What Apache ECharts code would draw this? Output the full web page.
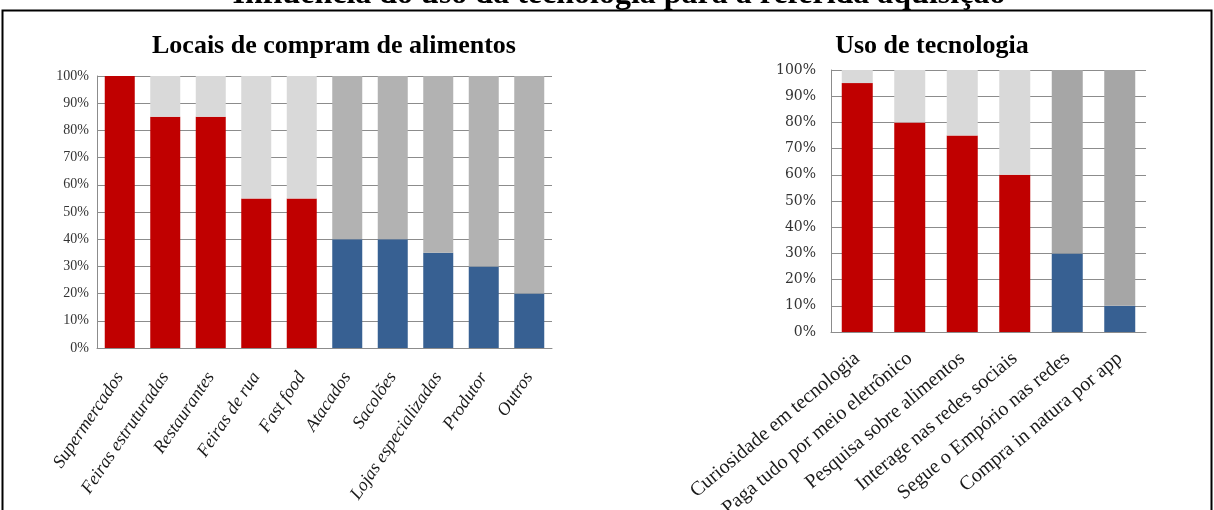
<!DOCTYPE html>
<html>
<head>
<meta charset="utf-8">
<script src="https://cdn.jsdelivr.net/npm/echarts@6/dist/echarts.min.js"></script>
<style>
  html, body { margin: 0; padding: 0; background: #fff; }
  #chart { width: 1214px; height: 510px; }
</style>
</head>
<body>
<div id="chart"></div>
<script>
// Locais de compra (gráfico da esquerda)
const locaisCats = ['Supermercados', 'Feiras estruturadas', 'Restaurantes', 'Feiras de rua', 'Fast food',
  'Atacados', 'Sacolões', 'Lojas especializadas', 'Produtor', 'Outros']
const locaisVermelho = [100, 85, 85, 55, 55, '-', '-', '-', '-', '-']
const locaisAzul = ['-', '-', '-', '-', '-', 40, 40, 35, 30, 20]
const locaisClaro = [0, 15, 15, 45, 45, '-', '-', '-', '-', '-']
const locaisCinza = ['-', '-', '-', '-', '-', 60, 60, 65, 70, 80]

// Uso de tecnologia (gráfico da direita)
const tecCats = ['Curiosidade em tecnologia', 'Paga tudo por meio eletrônico', 'Pesquisa sobre alimentos',
  'Interage nas redes sociais', 'Segue o Empório nas redes', 'Compra in natura por app']
const tecVermelho = [95, 80, 75, 60, '-', '-']
const tecAzul = ['-', '-', '-', '-', 30, 10]
const tecClaro = [5, 20, 25, 40, '-', '-']
const tecCinza = ['-', '-', '-', '-', 70, 90]

const RED = '#C00000'
const BLUE = '#376092'
const LIGHT = '#D9D9D9'

const chart = echarts.init(document.getElementById('chart'))

function bar(name, data, color, xi, width) {
  return {
    name, type: 'bar', stack: 's' + xi, data,
    xAxisIndex: xi, yAxisIndex: xi,
    barWidth: width,
    itemStyle: { color },
    silent: true
  }
}

const option = {
  animation: false,
  title: [
    {
      text: 'Influência do uso da tecnologia para a referida aquisição',
      left: 614, textAlign: 'center', top: -26,
      textStyle: { fontFamily: 'Liberation Serif', fontWeight: 'bold', fontSize: 32, color: '#000' }
    },
    {
      text: 'Locais de compram de alimentos',
      left: 329, textAlign: 'center', top: 28,
      textStyle: { fontFamily: 'Liberation Serif', fontWeight: 'bold', fontSize: 26, color: '#000' }
    },
    {
      text: 'Uso de tecnologia',
      left: 927, textAlign: 'center', top: 28,
      textStyle: { fontFamily: 'Liberation Serif', fontWeight: 'bold', fontSize: 26, color: '#000' }
    }
  ],
  graphic: [{
    type: 'rect',
    shape: { x: 2.5, y: 10.5, width: 1209, height: 520 },
    style: { fill: 'none', stroke: '#000', lineWidth: 2 },
    silent: true
  }],
  grid: [
    { left: 97, top: 76, width: 455, height: 272, outerBoundsMode: 'none' },
    { left: 831, top: 70, width: 315, height: 262, outerBoundsMode: 'none' }
  ],
  xAxis: [
    {
      type: 'category', gridIndex: 0, data: locaisCats,
      axisTick: { show: false },
      axisLine: { lineStyle: { color: '#8c8c8c' } },
      axisLabel: {
        interval: 0, rotate: 56, margin: 26,
        fontFamily: 'Liberation Serif', fontStyle: 'italic', fontSize: 18, color: '#1a1a1a'
      }
    },
    {
      type: 'category', gridIndex: 1, data: tecCats,
      axisTick: { show: false },
      axisLine: { lineStyle: { color: '#8c8c8c' } },
      axisLabel: {
        interval: 0, rotate: 40, margin: 24,
        fontFamily: 'Liberation Serif', fontSize: 20, color: '#1a1a1a'
      }
    }
  ],
  yAxis: [
    {
      type: 'value', gridIndex: 0, min: 0, max: 100, interval: 10,
      axisLine: { show: true, lineStyle: { color: '#8c8c8c' } },
      axisTick: { show: false },
      splitLine: { lineStyle: { color: '#8c8c8c' } },
      axisLabel: {
        formatter: '{value}%', margin: 8,
        fontFamily: 'Liberation Serif', fontSize: 14, color: '#333'
      }
    },
    {
      type: 'value', gridIndex: 1, min: 0, max: 100, interval: 10,
      axisLine: { show: true, lineStyle: { color: '#8c8c8c' } },
      axisTick: { show: false },
      splitLine: { lineStyle: { color: '#8c8c8c' } },
      axisLabel: {
        formatter: '{value}%', margin: 15,
        fontFamily: 'DejaVu Serif', fontSize: 14, color: '#333'
      }
    }
  ],
  series: [
    bar('Vermelho', locaisVermelho, RED, 0, 30),
    bar('Azul', locaisAzul, BLUE, 0, 30),
    bar('Claro', locaisClaro, LIGHT, 0, 30),
    bar('Cinza', locaisCinza, '#B2B2B2', 0, 30),
    bar('Vermelho', tecVermelho, RED, 1, 31),
    bar('Azul', tecAzul, BLUE, 1, 31),
    bar('Claro', tecClaro, LIGHT, 1, 31),
    bar('Cinza', tecCinza, '#A6A6A6', 1, 31)
  ]
}

chart.setOption(option)
</script>
</body>
</html>
